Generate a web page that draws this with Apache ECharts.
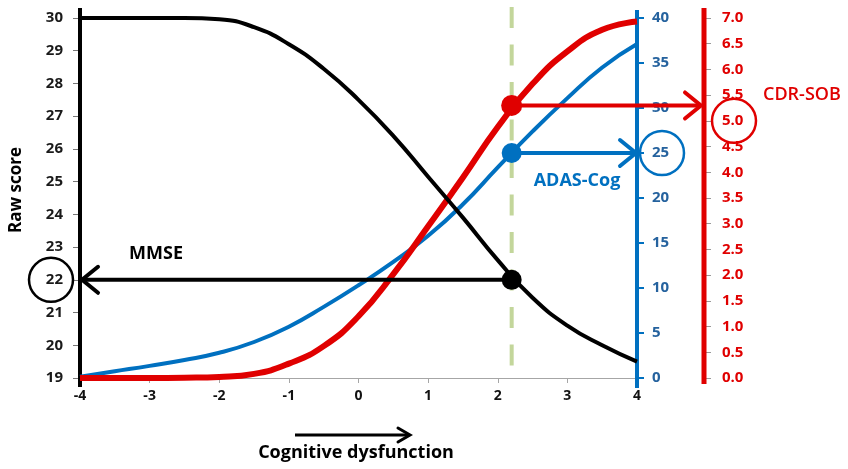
<!DOCTYPE html>
<html><head><meta charset="utf-8">
<script src="https://cdn.jsdelivr.net/npm/echarts@6/dist/echarts.min.js"></script>
<style>html,body{margin:0;padding:0;background:#fff}#c{width:848px;height:469px}</style>
</head><body><div id="c"></div>
<script>
// ---- data ----
const xValues = [-4, -3.5, -3, -2.5, -2, -1.5, -1, -0.5, 0, 0.5, 1, 1.5, 2, 2.5, 3, 3.5, 4];
const mmse    = [30, 30, 30, 30, 29.96, 29.72, 29.2, 28.45, 27.5, 26.4, 25.15, 23.9, 22.6, 21.45, 20.6, 20.0, 19.5];
const adasCog = [0.15, 0.75, 1.35, 2.0, 2.8, 4.0, 5.7, 7.9, 10.3, 12.9, 15.8, 19.3, 23.4, 27.4, 31.1, 34.5, 37.1];
const cdrSob  = [0, 0, 0, 0.005, 0.02, 0.08, 0.28, 0.62, 1.2, 2.02, 2.95, 3.9, 4.88, 5.72, 6.35, 6.77, 6.93];
const markerX = 2.2;
const mmseMarker = 22, adasMarker = 25, cdrMarker = 5.3;
const mmseCircled = 22, adasCircled = 25, cdrCircled = 5.0;
const seriesNames = ['MMSE', 'ADAS-Cog', 'CDR-SOB'];
const xAxisTitle = 'Cognitive dysfunction';
const yAxisTitle = 'Raw score';

// ---- layout / style ----
const FONT = '"Open Sans", "Noto Sans", sans-serif';
const BLACK = '#000000', BLUE = '#0070C0', RED = '#E00000', GREEN = '#C3D69B';
const RED_OFFSET = 67;

const pairs = arr => xValues.map((x, i) => [x, arr[i]]);

function annot(o) {
  return function (params, api) {
    const x = api.value(0), y = api.value(1), cv = api.value(2);
    const p = api.coord([x, y]);
    const edge = api.coord([o.edgeX, y]);
    const tipX = edge[0] + o.tipShift;
    const d = o.dir;
    const c = api.coord([o.edgeX, cv]);
    return {
      type: 'group', children: [
        { type: 'line', shape: { x1: p[0], y1: p[1], x2: tipX - d * 2, y2: p[1] },
          style: { stroke: o.color, lineWidth: o.lw } },
        { type: 'polyline', shape: { points: [[tipX - d * 16, p[1] - 13], [tipX, p[1]], [tipX - d * 16, p[1] + 13]] },
          style: { stroke: o.color, lineWidth: o.lw, fill: null, lineCap: 'round', lineJoin: 'round' } },
        { type: 'circle', shape: { cx: c[0] + o.circleDx, cy: c[1], r: 22 },
          style: { stroke: o.color, lineWidth: 2.5, fill: null } }
      ]
    };
  };
}

// axis line drawn slightly beyond the plot area, as in the reference
function axisBar(o) {
  return function (params, api) {
    const top = api.coord([o.edgeX, api.value(1)]);
    const bot = api.coord([o.edgeX, api.value(0)]);
    const x = top[0] + o.dx;
    return { type: 'line', shape: { x1: x, y1: top[1] - o.ext[0], x2: x, y2: bot[1] + o.ext[1] },
      style: { stroke: o.color, lineWidth: o.lw } };
  };
}

const chart = echarts.init(document.getElementById('c'));
chart.setOption({
  animation: false,
  backgroundColor: '#fff',
  textStyle: { fontFamily: FONT },
  grid: { left: 80, right: 211, top: 18, bottom: 91, containLabel: false },
  xAxis: {
    type: 'value', min: -4, max: 4, interval: 1,
    axisLine: { onZero: false, lineStyle: { color: '#A6A6A6', width: 1 } },
    axisTick: { length: 5, lineStyle: { color: '#A6A6A6' } },
    axisLabel: { fontFamily: FONT, fontWeight: 'bold', fontSize: 14, color: '#111', margin: 11 },
    splitLine: { show: false }
  },
  yAxis: [
    { type: 'value', min: 19, max: 30, interval: 1, position: 'left',
      axisLine: { show: false, onZero: false },
      axisTick: { show: true, length: 7, lineStyle: { color: '#777', width: 1 } },
      axisLabel: { fontFamily: FONT, fontWeight: 'bold', fontSize: 15, color: '#1a1a1a', margin: 17 },
      splitLine: { show: false } },
    { type: 'value', min: 0, max: 40, interval: 5, position: 'right', offset: 0,
      axisLine: { show: false, onZero: false },
      axisTick: { show: true, length: 7, lineStyle: { color: BLUE, width: 2 } },
      axisLabel: { fontFamily: FONT, fontWeight: 'bold', fontSize: 15, color: '#25629E', margin: 15 },
      splitLine: { show: false } },
    { type: 'value', min: 0, max: 7, interval: 0.5, position: 'right', offset: RED_OFFSET,
      axisLine: { show: false, onZero: false },
      axisTick: { show: true, length: 7, lineStyle: { color: '#999', width: 1 } },
      axisLabel: { fontFamily: FONT, fontWeight: 'bold', fontSize: 15, color: RED, margin: 18,
        formatter: v => v.toFixed(1) },
      splitLine: { show: false } }
  ],
  series: [
    { type: 'custom', yAxisIndex: 0, z: 1, silent: true, data: [[markerX]],
      renderItem: (params, api) => {
        const top = api.coord([api.value(0), 30]);
        const bot = api.coord([api.value(0), 19]);
        return { type: 'line', shape: { x1: top[0], y1: top[1] - 11, x2: bot[0], y2: bot[1] - 12 },
          style: { stroke: GREEN, lineWidth: 4, lineDash: [21, 16.5] } };
      } },
    { type: 'custom', yAxisIndex: 0, z: 1, silent: true, data: [[19, 30]],
      renderItem: axisBar({ edgeX: -4, dx: 0, ext: [10, 9], color: BLACK, lw: 4 }) },
    { type: 'custom', yAxisIndex: 1, z: 1, silent: true, data: [[0, 40]],
      renderItem: axisBar({ edgeX: 4, dx: 0, ext: [8, 10], color: BLUE, lw: 4 }) },
    { type: 'custom', yAxisIndex: 2, z: 1, silent: true, data: [[0, 7]],
      renderItem: axisBar({ edgeX: 4, dx: RED_OFFSET, ext: [10, 6], color: RED, lw: 5 }) },
    { name: seriesNames[1], type: 'line', yAxisIndex: 1, data: pairs(adasCog), smooth: 0.5, showSymbol: false, z: 2,
      lineStyle: { color: BLUE, width: 4 } },
    { name: seriesNames[2], type: 'line', yAxisIndex: 2, data: pairs(cdrSob), smooth: 0.5, showSymbol: false, z: 3,
      lineStyle: { color: RED, width: 6 } },
    { name: seriesNames[0], type: 'line', yAxisIndex: 0, data: pairs(mmse), smooth: 0.5, showSymbol: false, z: 4,
      lineStyle: { color: BLACK, width: 4 } },
    { type: 'custom', yAxisIndex: 0, z: 5, silent: true, data: [[markerX, mmseMarker, mmseCircled]],
      renderItem: annot({ edgeX: -4, dir: -1, tipShift: 2, circleDx: -29, color: BLACK, lw: 4 }) },
    { type: 'custom', yAxisIndex: 1, z: 5, silent: true, data: [[markerX, adasMarker, adasCircled]],
      renderItem: annot({ edgeX: 4, dir: 1, tipShift: -1, circleDx: 25, color: BLUE, lw: 4 }) },
    { type: 'custom', yAxisIndex: 2, z: 5, silent: true, data: [[markerX, cdrMarker, cdrCircled]],
      renderItem: annot({ edgeX: 4, dir: 1, tipShift: RED_OFFSET - 3, circleDx: RED_OFFSET + 30, color: RED, lw: 4 }) },
    { type: 'scatter', yAxisIndex: 0, z: 6, symbolSize: 20, data: [[markerX, mmseMarker]], itemStyle: { color: BLACK, opacity: 1 } },
    { type: 'scatter', yAxisIndex: 1, z: 6, symbolSize: 20, data: [[markerX, adasMarker]], itemStyle: { color: BLUE, opacity: 1 } },
    { type: 'scatter', yAxisIndex: 2, z: 6, symbolSize: 21, data: [[markerX, cdrMarker]], itemStyle: { color: RED, opacity: 1 } }
  ],
  graphic: [
    { type: 'text', x: 16, y: 190, rotation: Math.PI / 2, z: 10,
      style: { text: yAxisTitle, font: 'bold 17px ' + FONT, fill: '#000', align: 'center', verticalAlign: 'middle' } },
    { type: 'text', x: 156, y: 254, z: 10,
      style: { text: seriesNames[0], font: 'bold 18px ' + FONT, fill: '#000', align: 'center', verticalAlign: 'middle' } },
    { type: 'text', x: 577, y: 181, z: 10,
      style: { text: seriesNames[1], font: 'bold 18px ' + FONT, fill: BLUE, align: 'center', verticalAlign: 'middle' } },
    { type: 'text', x: 763, y: 95, z: 10,
      style: { text: seriesNames[2], font: '600 18px ' + FONT, fill: RED, align: 'left', verticalAlign: 'middle' } },
    { type: 'text', x: 356, y: 453, z: 10,
      style: { text: xAxisTitle, font: 'bold 18px ' + FONT, fill: '#000', align: 'center', verticalAlign: 'middle' } },
    { type: 'polyline', z: 10, shape: { points: [[295, 435], [409, 435]] }, style: { stroke: '#000', lineWidth: 3 } },
    { type: 'polyline', z: 10, shape: { points: [[398, 428], [410, 435], [398, 442]] },
      style: { stroke: '#000', lineWidth: 3, fill: null, lineCap: 'round' } }
  ]
});
</script></body></html>
